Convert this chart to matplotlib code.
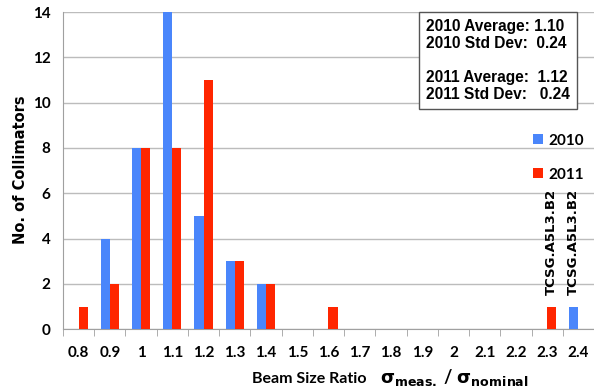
import matplotlib
matplotlib.use("Agg")
import matplotlib.pyplot as plt
import numpy as np

ratios = ["0.8", "0.9", "1", "1.1", "1.2", "1.3", "1.4", "1.5", "1.6", "1.7",
          "1.8", "1.9", "2", "2.1", "2.2", "2.3", "2.4"]
counts_2010 = [0, 4, 8, 14, 5, 3, 2, 0, 0, 0, 0, 0, 0, 0, 0, 0, 1]
counts_2011 = [1, 2, 8, 8, 11, 3, 2, 0, 1, 0, 0, 0, 0, 0, 0, 1, 0]
outlier_name = "TCSG.A5L3.B2"
stats_text = ("2010 Average: 1.10\n2010 Std Dev:  0.24\n\n"
              "2011 Average:  1.12\n2011 Std Dev:   0.24")

blue = "#4a86fb"
red = "#ff2600"

plt.rcParams["font.family"] = ["Lato", "DejaVu Sans"]

fig = plt.figure(figsize=(5.94, 3.90), dpi=100)
ax = fig.add_axes([0.106, 0.156, 0.894, 0.813])

x = np.arange(len(ratios))
w = 0.29
ax.bar(x - w / 2, counts_2010, w, color=blue, label="2010", zorder=3)
ax.bar(x + w / 2, counts_2011, w, color=red, label="2011", zorder=3)

ax.set_xlim(-0.5, len(ratios) - 0.5)
ax.set_ylim(0, 14)
ax.set_yticks(range(0, 15, 2))
ax.yaxis.grid(True, color="#bcbcbc", linewidth=1.0, zorder=0)
ax.tick_params(axis="y", length=0, pad=9, labelsize=11)
for lab in ax.get_yticklabels():
    lab.set_fontweight("bold")

ax.set_xticks(x)
ax.set_xticklabels(ratios, fontweight="bold", fontsize=11)
ax.tick_params(axis="x", which="major", length=0, pad=12)
ax.set_xticks(np.arange(-0.5, len(ratios), 1.0), minor=True)
ax.tick_params(axis="x", which="minor", length=5, color="#a0a0a0", direction="out")

for side in ("top", "right"):
    ax.spines[side].set_visible(False)
ax.spines["left"].set_color("#a0a0a0")
ax.spines["bottom"].set_color("#a0a0a0")

fig.text(0.034, 0.565, "No. of Collimators", rotation=90, fontweight="bold",
         fontsize=10.5, family=["DejaVu Sans"], ha="center", va="center")
fig.text(0.425, 0.028, "Beam Size Ratio", fontweight="bold", fontsize=11.5,
         ha="left", va="center")
fig.text(0.64, 0.032,
         r"$\mathbf{\sigma}_{\mathbf{meas.}}$ / $\mathbf{\sigma}_{\mathbf{nominal}}$",
         fontweight="bold", fontsize=13, ha="left", va="center")

# names of the outlying collimators above their bars
ax.text(x[15] + w / 2, counts_2011[15] + 0.5, outlier_name, rotation=90,
        ha="center", va="bottom", fontsize=9.5, fontweight="bold",
        family=["DejaVu Sans"])
ax.text(x[16] - w / 2, counts_2010[16] + 0.5, outlier_name, rotation=90,
        ha="center", va="bottom", fontsize=9.5, fontweight="bold",
        family=["DejaVu Sans"])

fig.text(0.718, 0.952, stats_text, fontweight="bold", fontsize=11.2,
         family=["Liberation Sans"], ha="left", va="top", linespacing=1.18,
         bbox=dict(boxstyle="square,pad=0.45", facecolor="white",
                   edgecolor="#555555", linewidth=1.0))

leg = ax.legend(loc="upper left", bbox_to_anchor=(0.86, 0.66), frameon=False,
                handlelength=0.6, handleheight=0.6, handletextpad=0.4,
                labelspacing=1.3, prop={"weight": "bold", "size": 11})

fig.savefig("out.png", dpi=100)
